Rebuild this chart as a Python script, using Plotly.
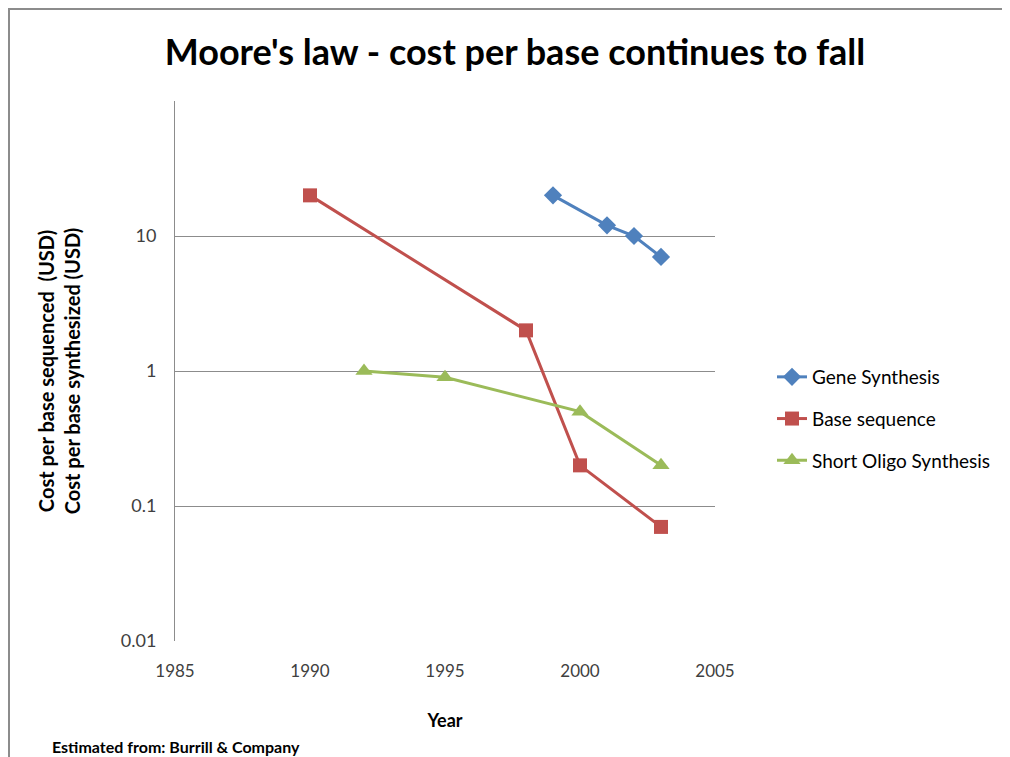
import plotly.graph_objects as go

gene_years = [1999, 2001, 2002, 2003]
gene_cost = [20, 12, 10, 7]
base_years = [1990, 1998, 2000, 2003]
base_cost = [20, 2, 0.2, 0.07]
oligo_years = [1992, 1995, 2000, 2003]
oligo_cost = [1, 0.9, 0.5, 0.2]

x_ticks = [1985, 1990, 1995, 2000, 2005]
y_ticks = [0.01, 0.1, 1, 10]
y_tick_text = ["0.01", "0.1", "1", "10"]

W, H = 1010, 757
OFF = 8  # page body margin
L, T = 175 - OFF, 101 - OFF
PW, PH = 540, 540
R = W - L - PW
B = H - T - PH

fig = go.Figure()
fig.add_trace(go.Scatter(x=gene_years, y=gene_cost, name="Gene Synthesis", mode="lines+markers",
                         legendgroup="g1",
                         line=dict(color="#4F81BD", width=3),
                         marker=dict(symbol="diamond", size=14, color="#4F81BD")))
fig.add_trace(go.Scatter(x=base_years, y=base_cost, name="Base sequence", mode="lines+markers",
                         legendgroup="g2",
                         line=dict(color="#C0504D", width=3),
                         marker=dict(symbol="square", size=14, color="#C0504D")))
fig.add_trace(go.Scatter(x=oligo_years, y=oligo_cost, name="Short Oligo Synthesis", mode="lines+markers",
                         legendgroup="g3",
                         line=dict(color="#9BBB59", width=3),
                         marker=dict(symbol="triangle-up", size=15, color="#9BBB59")))


def px_x(p):
    return (p - OFF - L) / PW


def px_y(p):
    return 1 - (p - OFF - T) / PH


fig.add_shape(type="rect", xref="paper", yref="paper",
              x0=px_x(9), x1=px_x(1003), y0=px_y(800), y1=px_y(9),
              line=dict(color="#8c8c8c", width=2), fillcolor="rgba(0,0,0,0)", layer="below")

fig.update_layout(
    width=W, height=H,
    margin=dict(l=L, r=R, t=T, b=B),
    paper_bgcolor="white", plot_bgcolor="white",
    font=dict(family="Lato, 'Open Sans', sans-serif", color="#000000"),
    title=dict(text="<b>Moore's law - cost per base continues to fall</b>", x=px_x(515), xanchor="center",
               xref="paper", y=1 - (52 - OFF) / H, yanchor="middle",
               font=dict(size=36, family="Lato, sans-serif", color="#000000")),
    showlegend=True,
    legend=dict(x=px_x(772), xanchor="left", y=px_y(419), yanchor="middle",
                font=dict(size=19, color="#000000"), tracegroupgap=14,
                bgcolor="rgba(0,0,0,0)"),
    xaxis=dict(range=[1985, 2005], tickvals=x_ticks, showgrid=False, zeroline=False,
               showline=False, ticks="", tickfont=dict(size=17, color="#404040"),
               ticklabelstandoff=18,
               title=dict(text="<b>Year</b>", font=dict(size=18, color="#000000"), standoff=34)),
    yaxis=dict(type="log", range=[-2, 2], tickvals=y_ticks, ticktext=y_tick_text,
               showgrid=True, gridcolor="#8c8c8c", gridwidth=1, zeroline=False,
               showline=True, linecolor="#8c8c8c", linewidth=1, ticks="",
               tickfont=dict(size=18, color="#404040"), ticklabelstandoff=14,
               title=dict(text="<b>Cost per base sequenced  (USD)<br>Cost per base synthesized (USD)</b>",
                          font=dict(size=20, color="#000000"), standoff=34)),
)

fig.add_annotation(text="<b>Estimated from: Burrill & Company</b>", xref="paper", yref="paper",
                   x=px_x(50), xanchor="left", y=px_y(746), yanchor="middle",
                   showarrow=False, font=dict(size=16, color="#000000",
                                              family="'Liberation Sans Narrow', Lato, sans-serif"))

fig.write_html("out.html")
